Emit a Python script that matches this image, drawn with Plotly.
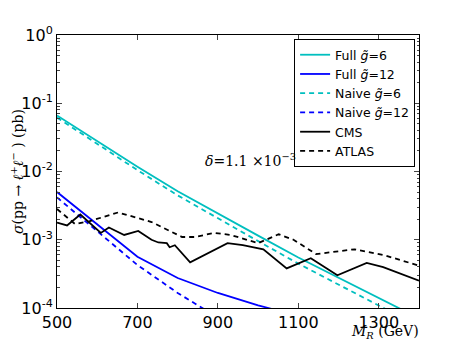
import numpy as np
import plotly.graph_objects as go

# masses (GeV) and cross sections (pb)
m_theory = [500, 600, 700, 800, 900, 1000, 1100, 1200, 1300, 1400]
full_g6 = [10**v for v in [-1.18, -1.56, -1.93, -2.29, -2.62, -2.94, -3.26, -3.56, -3.86, -4.15]]
naive_g6 = [10**v for v in [-1.21, -1.60, -1.98, -2.35, -2.69, -3.02, -3.35, -3.66, -3.97, -4.27]]

m_g12 = [500, 600, 700, 800, 900, 1000, 1100]
full_g12 = [10**v for v in [-2.30, -2.77, -3.25, -3.56, -3.78, -3.96, -4.12]]
naive_g12 = [10**v for v in [-2.38, -2.87, -3.37, -3.78, -4.14, -4.45, -4.75]]

m_cms = [500, 525, 558, 609, 629, 667, 702, 735, 752, 773, 780, 793, 831,
         924, 962, 1013, 1071, 1131, 1197, 1270, 1311, 1349, 1400]
cms = [10**v for v in [-2.75, -2.79, -2.63, -2.90, -2.82, -2.93, -2.87, -3.00, -3.04, -3.05,
                       -3.11, -3.08, -3.33, -3.05, -3.08, -3.14, -3.42, -3.27, -3.52, -3.34,
                       -3.40, -3.49, -3.60]]

m_atlas = [500, 545, 580, 652, 735, 811, 843, 891, 932, 1000, 1051, 1088, 1144,
           1240, 1316, 1400]
atlas = [10**v for v in [-2.55, -2.77, -2.73, -2.60, -2.74, -2.96, -2.96, -2.90, -2.93, -3.05,
                         -2.92, -3.00, -3.21, -3.14, -3.23, -3.38]]

x_ticks = [500, 700, 900, 1100, 1300]
y_decades = [-4, -3, -2, -1, 0]

CYAN = "#00BFBF"
BLUE = "#0000FF"
DASH = "5px,4px"
gt = "<i>g̃</i>"

fig = go.Figure()
series = [
    (m_theory, full_g6, "Full " + gt + "=6", CYAN, "solid"),
    (m_g12, full_g12, "Full " + gt + "=12", BLUE, "solid"),
    (m_theory, naive_g6, "Naive " + gt + "=6", CYAN, DASH),
    (m_g12, naive_g12, "Naive " + gt + "=12", BLUE, DASH),
    (m_cms, cms, "CMS", "black", "solid"),
    (m_atlas, atlas, "ATLAS", "black", DASH),
]
for x, y, name, col, dash in series:
    fig.add_trace(go.Scatter(x=x, y=y, name=name, mode="lines",
                             line=dict(color=col, width=1.8, dash=dash)))

minor_vals = [k * 10.0**d for d in y_decades[:-1] for k in range(2, 10)]

# page body has an 8px margin, so the figure is shrunk and margins shifted
fig.update_layout(
    width=449, height=335,
    margin=dict(l=49, r=38, t=27, b=35, autoexpand=False),
    paper_bgcolor="white", plot_bgcolor="white",
    font=dict(family="DejaVu Sans", size=16, color="black"),
    showlegend=True,
    legend=dict(x=0.655, y=0.985, xanchor="left", yanchor="top",
                bordercolor="black", borderwidth=1, bgcolor="white",
                font=dict(size=12.5, family="DejaVu Sans"), tracegroupgap=0,
                itemwidth=30),
)
fig.update_xaxes(range=[500, 1400], tickvals=x_ticks, ticks="inside", ticklen=5,
                 showline=True, linecolor="black", linewidth=1, mirror="allticks",
                 showgrid=False, zeroline=False, tickfont=dict(size=16), automargin=False)
fig.update_yaxes(type="log", range=[-4, 0], tickvals=[10.0**d for d in y_decades],
                 ticktext=["10<sup>%d</sup>" % d for d in y_decades],
                 ticks="inside", ticklen=5, showline=True, linecolor="black", linewidth=1,
                 mirror="allticks", showgrid=False, zeroline=False, tickfont=dict(size=16),
                 automargin=False,
                 minor=dict(tickvals=minor_vals, ticks="inside", ticklen=2.5, showgrid=False),
                 title=dict(text="<i>σ</i>(pp → <i>ℓ</i><sup>+</sup><i>ℓ</i><sup>−</sup> ) (pb)",
                            font=dict(family="DejaVu Serif", size=14), standoff=4))

fig.add_annotation(x=1.005, y=-0.128, xref="paper", yref="paper", xanchor="right",
                   yanchor="bottom", showarrow=False,
                   text="<i>M</i><sub><i>R</i></sub> (GeV)",
                   font=dict(family="DejaVu Serif", size=14))
fig.add_annotation(x=980, y=-1.83, xref="x", yref="y", showarrow=False,
                   text="<i>δ</i>=1.1 ×10<sup>−3</sup>",
                   font=dict(family="DejaVu Serif", size=14))

fig.write_html("out.html")
